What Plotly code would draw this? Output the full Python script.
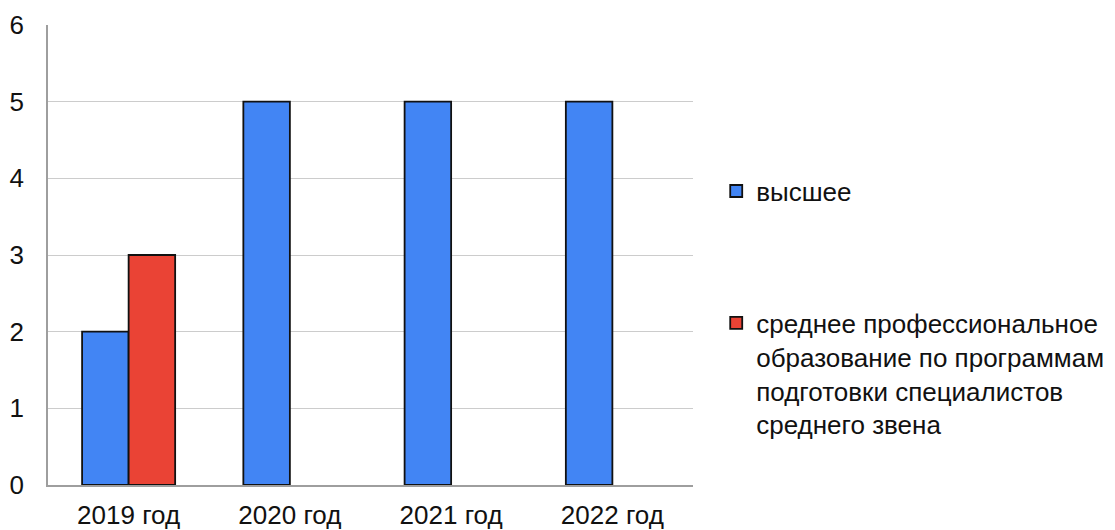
import plotly.graph_objects as go

categories = ["2019 год", "2020 год", "2021 год", "2022 год"]
higher = [2, 5, 5, 5]
secondary = [3, None, None, None]
series_names = [
    "высшее",
    "среднее профессиональное<br>образование по программам<br>подготовки специалистов<br>среднего звена",
]

FONT = "Liberation Sans, Arial, sans-serif"
FS = 26

fig = go.Figure()
fig.add_trace(go.Bar(
    x=categories, y=higher, name=series_names[0],
    marker=dict(color="#4285F4", line=dict(color="#111111", width=1.8)),
    legendgroup="a",
))
fig.add_trace(go.Bar(
    x=categories, y=secondary, name=series_names[1],
    marker=dict(color="#EA4335", line=dict(color="#111111", width=1.8)),
    legendgroup="b",
))

fig.update_layout(
    template="none",
    width=1115, height=530,
    margin=dict(l=48, r=422, t=25, b=45, autoexpand=False),
    paper_bgcolor="white", plot_bgcolor="white",
    barmode="group", bargap=0.423, bargroupgap=0,
    font=dict(family=FONT, size=FS, color="#111111"),
    showlegend=True,
    legend=dict(
        x=1.036, xref="paper", y=0.69, xanchor="left", yanchor="top",
        valign="top", tracegroupgap=95,
        font=dict(family=FONT, size=FS, color="#111111"),
        bgcolor="rgba(0,0,0,0)",
        itemwidth=30,
    ),
    xaxis=dict(
        showline=True, linecolor="#9e9e9e", linewidth=1.5,
        showgrid=False, ticks="", ticklabelstandoff=6, automargin=False,
        tickfont=dict(family=FONT, size=FS, color="#111111"),
    ),
    yaxis=dict(
        range=[0, 6], dtick=1, showline=True, linecolor="#9e9e9e", linewidth=1.5,
        showgrid=True, gridcolor="#cccccc", gridwidth=1.2,
        zeroline=False, ticks="", ticklabelstandoff=17, automargin=False,
        tickfont=dict(family=FONT, size=FS, color="#111111"),
    ),
)

fig.write_html(
    "out.html",
    config={"displayModeBar": False},
    post_script="document.body.style.margin='0';document.body.style.overflow='hidden';",
)
